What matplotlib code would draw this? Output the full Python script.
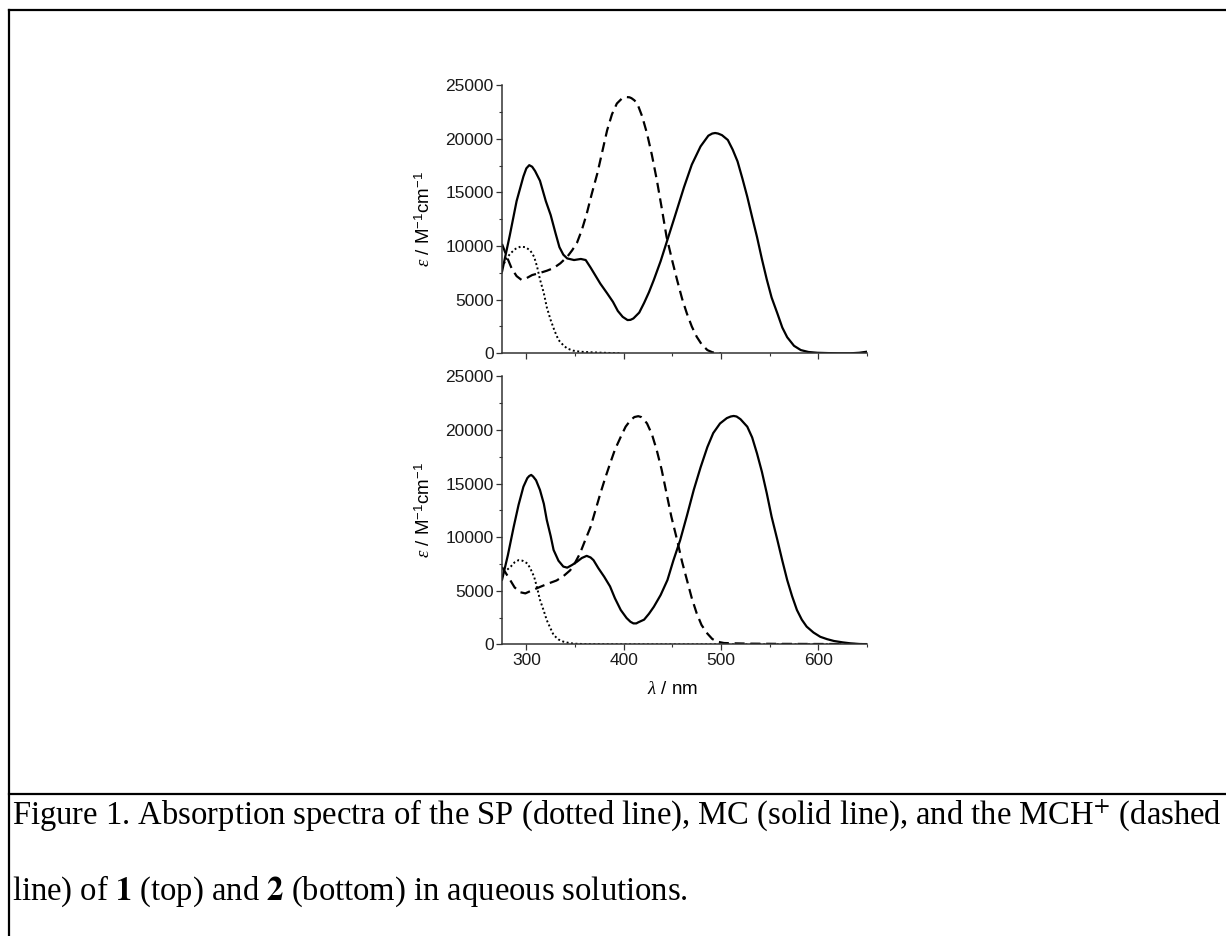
import matplotlib
matplotlib.use('Agg')
import matplotlib.pyplot as plt
from matplotlib.lines import Line2D
from matplotlib.ticker import MultipleLocator

plt.rcParams['font.family'] = ['Liberation Sans', 'DejaVu Sans']
plt.rcParams['mathtext.fontset'] = 'custom'
plt.rcParams['mathtext.rm'] = 'Liberation Sans'
plt.rcParams['mathtext.it'] = 'Liberation Serif:italic'
plt.rcParams['mathtext.bf'] = 'Liberation Sans:bold'

# compound 1 (top panel)
wl_mc1 = [275, 283, 290, 297, 300, 303, 306, 309, 314, 320, 325, 330, 334, 338, 342, 349, 356, 361,
          366, 370, 376, 383, 389, 394, 399, 404, 407, 410, 416, 421, 426, 431, 438, 445, 452, 462,
          470, 479, 487, 491, 494, 497, 501, 507, 512, 517, 522, 527, 532, 537, 542, 547, 552, 558,
          563, 568, 575, 582, 590, 599, 610, 620, 633, 642, 650]
eps_mc1 = [7600, 11000, 14200, 16500, 17250, 17550, 17400, 17000, 16100, 14200, 12900, 11200, 9900,
           9200, 8850, 8700, 8800, 8700, 8000, 7400, 6500, 5600, 4800, 3950, 3400, 3100, 3120, 3250,
           3800, 4700, 5700, 6850, 8600, 10600, 12600, 15500, 17600, 19300, 20300, 20500, 20550,
           20500, 20350, 19900, 19000, 17900, 16300, 14600, 12700, 10850, 8800, 6900, 5200, 3700,
           2400, 1500, 700, 300, 120, 50, 20, 0, 0, 50, 150]

wl_mch1 = [275, 280, 285, 290, 295, 300, 306, 314, 321, 328, 335, 342, 347, 352, 357, 362, 367, 373,
           378, 383, 388, 393, 398, 401, 403, 406, 408, 411, 414, 419, 424, 429, 434, 439, 444, 450,
           455, 460, 465, 470, 475, 480, 486, 491, 496, 500]
eps_mch1 = [10200, 9000, 7900, 7200, 6850, 7000, 7300, 7500, 7700, 7950, 8400, 9000, 9600, 10300,
            11500, 13000, 14800, 16800, 18800, 20800, 22300, 23300, 23750, 23880, 23900, 23880,
            23800, 23600, 23300, 22100, 20500, 18500, 16200, 13600, 10900, 8600, 6800, 5100, 3700,
            2500, 1550, 850, 300, 100, 0, 0]

wl_sp1 = [275, 280, 284, 289, 294, 299, 304, 308, 311, 314, 318, 321, 325, 329, 333, 338, 342, 348,
          355, 365, 376, 386, 397]
eps_sp1 = [8000, 8900, 9350, 9750, 9950, 9900, 9600, 9000, 8100, 6900, 5600, 4300, 3100, 2100, 1250,
           750, 450, 250, 150, 100, 60, 30, 0]

# compound 2 (bottom panel)
wl_mc2 = [275, 281, 287, 292, 297, 301, 303, 305, 307, 310, 314, 318, 321, 325, 328, 333, 338, 342,
          347, 352, 357, 362, 366, 369, 374, 380, 386, 391, 397, 403, 407, 410, 413, 415, 421, 426,
          431, 438, 445, 451, 458, 465, 472, 479, 486, 492, 499, 506, 510, 513, 516, 520, 527, 532,
          537, 542, 547, 552, 558, 563, 568, 573, 578, 583, 588, 595, 602, 609, 616, 625, 633, 642,
          650]
eps_mc2 = [6000, 8300, 10950, 13000, 14700, 15500, 15700, 15800, 15650, 15300, 14400, 13100, 11600,
           10100, 8800, 7800, 7250, 7150, 7400, 7700, 8050, 8250, 8100, 7850, 7100, 6300, 5400, 4300,
           3200, 2450, 2100, 1950, 1950, 2050, 2300, 2850, 3500, 4600, 6000, 7800, 9700, 12000,
           14400, 16500, 18400, 19700, 20600, 21100, 21250, 21300, 21250, 21000, 20300, 19300,
           17800, 16100, 14100, 11900, 9700, 7800, 6000, 4500, 3200, 2300, 1650, 1100, 700, 480,
           310, 180, 90, 30, 0]

wl_mch2 = [275, 282, 288, 294, 299, 305, 314, 322, 331, 338, 345, 350, 355, 360, 366, 371, 376, 381,
           386, 391, 397, 402, 407, 411, 415, 418, 420, 424, 429, 434, 439, 444, 449, 455, 460, 465,
           470, 475, 480, 486, 491, 496, 503, 513, 530, 560, 600, 650]
eps_mch2 = [7200, 6200, 5300, 4850, 4750, 5000, 5350, 5650, 5950, 6350, 6900, 7600, 8450, 9600,
            10950, 12500, 14050, 15500, 16850, 18150, 19350, 20300, 20900, 21200, 21280, 21200,
            21050, 20600, 19600, 18100, 16300, 14100, 11900, 9700, 7700, 6000, 4300, 2900, 1800,
            1000, 500, 250, 120, 90, 60, 40, 30, 20]

wl_sp2 = [275, 279, 284, 288, 292, 296, 301, 304, 308, 311, 314, 318, 321, 325, 328, 333, 338, 344,
          349, 360, 400, 500, 650]
eps_sp2 = [6300, 6850, 7250, 7650, 7850, 7800, 7550, 7100, 6300, 5300, 4150, 3100, 2250, 1450, 870,
           450, 250, 120, 60, 20, 0, 0, 0]

y_ticks = [0, 5000, 10000, 15000, 20000, 25000]
x_ticks = [300, 400, 500, 600]

W, H = 1226, 936
fig = plt.figure(figsize=(W / 100, H / 100), dpi=100)

ax_left = 502 / W
ax_w = 365 / W
ax_h = 268 / H
ax_top = fig.add_axes([ax_left, 1 - 353.3 / H, ax_w, ax_h])
ax_bot = fig.add_axes([ax_left, 1 - 644.3 / H, ax_w, ax_h])

axis_col = '#333333'
lw = 1.6
line_kw = dict(color='black', solid_joinstyle='round', dash_joinstyle='round',
               solid_capstyle='round')


def style_axis(ax, show_xlabels):
    ax.set_xlim(275, 650)
    ax.set_ylim(0, 25000)
    ax.set_xticks(x_ticks)
    ax.set_yticks(y_ticks)
    ax.xaxis.set_minor_locator(MultipleLocator(50))
    ax.yaxis.set_minor_locator(MultipleLocator(2500))
    for s in ['top', 'right']:
        ax.spines[s].set_visible(False)
    for s in ['left', 'bottom']:
        ax.spines[s].set_color(axis_col)
        ax.spines[s].set_linewidth(1.1)
    ax.tick_params(which='major', direction='out', length=4, width=0.9, color=axis_col,
                   labelsize=12.5, pad=2, labelcolor='#1a1a1a')
    ax.tick_params(which='minor', direction='out', length=2.2, width=0.8, color=axis_col)
    if not show_xlabels:
        ax.tick_params(axis='x', labelbottom=False)
    ax.set_ylabel(r'$\varepsilon$ / M$^{-1}$cm$^{-1}$', fontsize=13.5)
    ax.yaxis.set_label_coords(-0.186, 0.5)
    ax.patch.set_alpha(0)


ax_top.plot(wl_mc1, eps_mc1, lw=lw, ls='-', **line_kw)
ax_top.plot(wl_mch1, eps_mch1, lw=lw, ls=(0, (4.5, 2.6)), **line_kw)
ax_top.plot(wl_sp1, eps_sp1, lw=1.4, ls=(0, (1, 1.3)), **line_kw)
style_axis(ax_top, False)

ax_bot.plot(wl_mc2, eps_mc2, lw=lw, ls='-', **line_kw)
ax_bot.plot(wl_mch2, eps_mch2, lw=lw, ls=(0, (4.5, 2.6)), **line_kw)
ax_bot.plot(wl_sp2, eps_sp2, lw=1.4, ls=(0, (1, 1.3)), **line_kw)
style_axis(ax_bot, True)
ax_bot.set_xlabel(r'$\lambda$ / nm', fontsize=13.5, va='center')
ax_bot.xaxis.set_label_coords(0.466, -0.167)

# frame of the figure box and caption divider
fig.add_artist(Line2D([9 / W, 1], [1 - 10 / H, 1 - 10 / H], color='black', lw=1.6,
                      transform=fig.transFigure))
fig.add_artist(Line2D([9 / W, 9 / W], [0, 1 - 10 / H], color='black', lw=1.6,
                      transform=fig.transFigure))
fig.add_artist(Line2D([9 / W, 1], [1 - 794 / H, 1 - 794 / H], color='black', lw=1.6,
                      transform=fig.transFigure))

cap_kw = dict(fontsize=23.5, family=['Liberation Serif', 'DejaVu Serif'], math_fontfamily='stix',
              ha='left', va='baseline', color='black')
fig.text(12 / W, 1 - 824 / H,
         'Figure 1. Absorption spectra of the SP (dotted line), MC (solid line), and the MCH$^{+}$ (dashed',
         **cap_kw)
fig.text(12 / W, 1 - 900 / H,
         r'line) of $\mathbf{1}$ (top) and $\mathbf{2}$ (bottom) in aqueous solutions.',
         **cap_kw)

fig.savefig('out.png', dpi=100, facecolor='white')
plt.close(fig)
